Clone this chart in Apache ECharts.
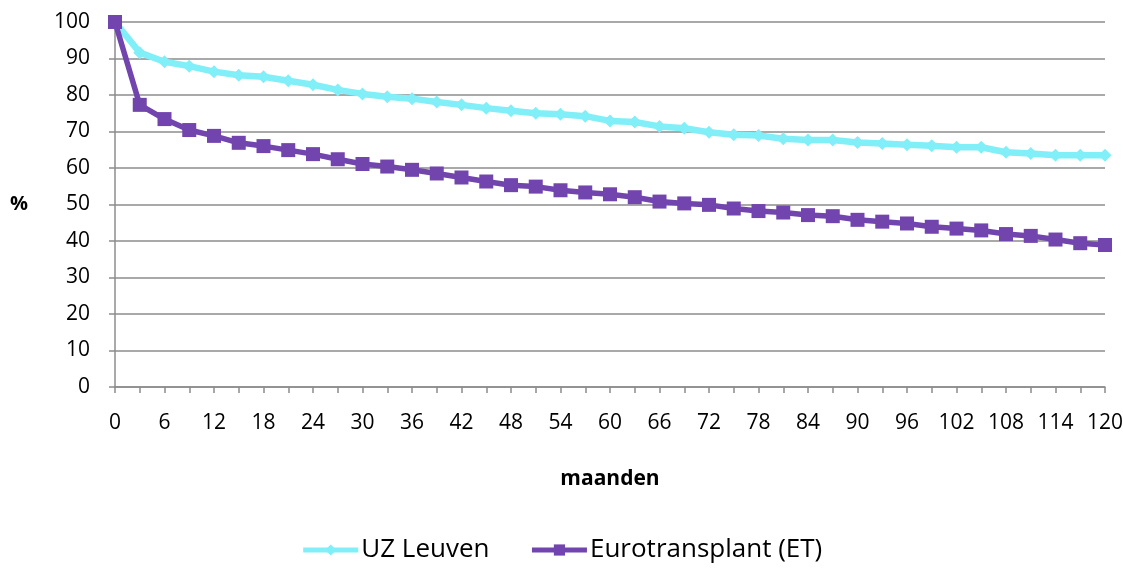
<!DOCTYPE html>
<html>
<head>
<meta charset="utf-8">
<script src="https://cdn.jsdelivr.net/npm/echarts@6/dist/echarts.min.js"></script>
<style>
  html, body { margin: 0; padding: 0; background: #fff; }
  #chart { width: 1123px; height: 568px; }
</style>
</head>
<body>
<div id="chart"></div>
<script>
// Months after transplant (every 3 months)
const months = [0,3,6,9,12,15,18,21,24,27,30,33,36,39,42,45,48,51,54,57,60,
  63,66,69,72,75,78,81,84,87,90,93,96,99,102,105,108,111,114,117,120];

// Survival (%) per centre
const uzLeuven = [100,91.6,89.1,87.9,86.4,85.4,85.0,83.9,82.8,81.4,80.3,79.5,79.0,78.1,
  77.3,76.4,75.7,75.0,74.7,74.2,72.9,72.6,71.4,70.9,69.8,69.1,68.9,68.0,67.7,67.7,
  67.0,66.7,66.4,66.1,65.7,65.7,64.3,64.0,63.5,63.5,63.5];
const eurotransplant = [100,77.3,73.4,70.4,68.8,66.9,66.0,64.9,63.8,62.4,61.1,60.4,59.5,58.5,
  57.4,56.3,55.3,54.9,53.9,53.3,52.8,52.0,50.8,50.3,49.9,48.9,48.2,47.8,47.1,46.8,
  45.8,45.3,44.8,43.9,43.4,42.9,41.9,41.4,40.4,39.4,38.9];

const yTicks = { min: 0, max: 100, interval: 10 };

const font = 'Open Sans, Noto Sans, sans-serif';
const axisGrey = '#8c8c8c';

const chart = echarts.init(document.getElementById('chart'));
chart.setOption({
  animation: false,
  textStyle: { fontFamily: font },
  grid: { left: 115, right: 18, top: 22, bottom: 181, outerBoundsMode: 'none' },
  legend: {
    bottom: 0,
    left: 'center',
    itemWidth: 55,
    itemHeight: 14,
    itemGap: 40,
    lineStyle: { width: 5 },
    textStyle: { fontFamily: font, fontSize: 26, color: '#000', padding: [0, 0, 0, -2] },
    data: ['UZ Leuven', 'Eurotransplant (ET)']
  },
  xAxis: {
    type: 'category',
    data: months,
    boundaryGap: false,
    name: 'maanden',
    nameLocation: 'middle',
    nameGap: 82,
    nameTextStyle: { fontFamily: font, fontSize: 21, fontWeight: 'bold', color: '#000' },
    axisLine: { lineStyle: { color: axisGrey, width: 1.5 } },
    axisTick: { interval: 0, length: 6, lineStyle: { color: axisGrey, width: 1.5 } },
    axisLabel: { interval: 1, margin: 26, fontSize: 21, color: '#000', fontFamily: font },
    splitLine: { show: false }
  },
  yAxis: {
    type: 'value',
    min: yTicks.min,
    max: yTicks.max,
    interval: yTicks.interval,
    name: '%',
    nameLocation: 'middle',
    nameRotate: 0,
    nameGap: 87,
    nameTextStyle: { fontFamily: font, fontSize: 20, fontWeight: 'bold', color: '#000', padding: [6, 0, 0, 0] },
    axisLine: { show: true, lineStyle: { color: axisGrey, width: 1.5 } },
    axisTick: { show: true, length: 6, lineStyle: { color: axisGrey, width: 1.5 } },
    axisLabel: { margin: 25, fontSize: 21, color: '#000', fontFamily: font },
    splitLine: { lineStyle: { color: axisGrey, width: 1.5 } }
  },
  series: [
    {
      name: 'UZ Leuven',
      type: 'line',
      data: uzLeuven,
      symbol: 'diamond',
      symbolSize: 13,
      lineStyle: { color: '#80eff8', width: 6.5 },
      itemStyle: { color: '#80eff8' },
      z: 2
    },
    {
      name: 'Eurotransplant (ET)',
      type: 'line',
      data: eurotransplant,
      symbol: 'rect',
      symbolSize: 14,
      lineStyle: { color: '#7244ae', width: 5.5 },
      itemStyle: { color: '#7244ae' },
      z: 3
    }
  ]
});
</script>
</body>
</html>
